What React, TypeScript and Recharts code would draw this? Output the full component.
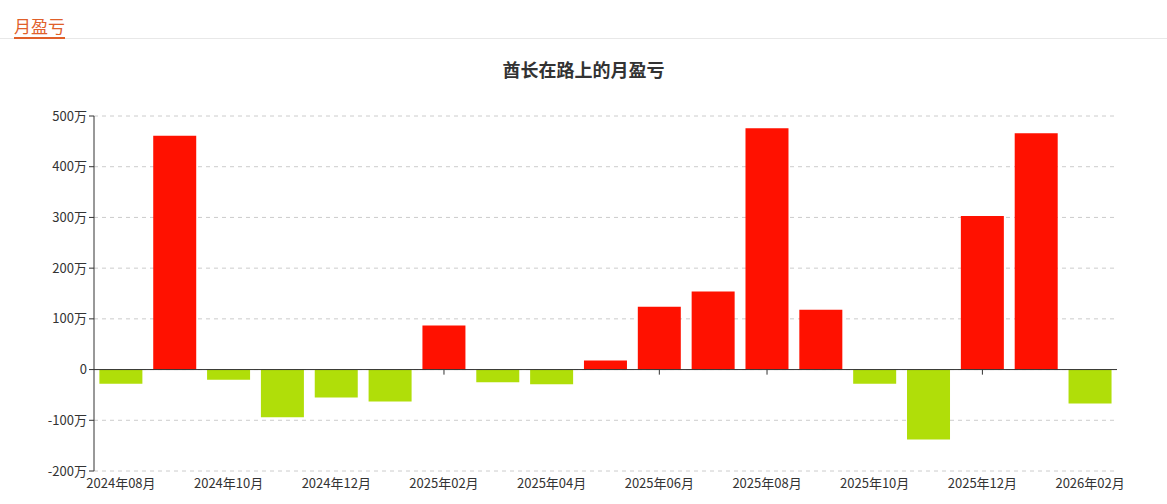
import React from "react";
import {
  BarChart,
  Bar,
  Cell,
  XAxis,
  YAxis,
  CartesianGrid,
  ReferenceLine,
} from "recharts";

const months = [
  "2024年08月",
  "2024年09月",
  "2024年10月",
  "2024年11月",
  "2024年12月",
  "2025年01月",
  "2025年02月",
  "2025年03月",
  "2025年04月",
  "2025年05月",
  "2025年06月",
  "2025年07月",
  "2025年08月",
  "2025年09月",
  "2025年10月",
  "2025年11月",
  "2025年12月",
  "2026年01月",
  "2026年02月",
];

// 单位：万
const profit = [
  -28, 461, -20, -94, -55, -63, 87, -25, -29, 18, 124, 154, 476, 118, -28,
  -138, 303, 466, -67,
];

const yTicks = [-200, -100, 0, 100, 200, 300, 400, 500];

const data = months.map((m, i) => ({ month: m, value: profit[i] }));
// tick marks on the zero line sit under the bars, so only the ones beside
// positive bars show
const tickMonths = data
  .filter((d, i) => i % 2 === 0 && d.value >= 0)
  .map((d) => d.month);

const font = '"Noto Sans CJK SC", "Microsoft YaHei", sans-serif';

export default function App() {
  return (
    <div
      style={{
        position: "absolute",
        left: 0,
        top: 0,
        width: 1167,
        height: 504,
        background: "#fff",
        fontFamily: font,
      }}
    >
      <div
        style={{
          position: "absolute",
          left: 0,
          right: 0,
          top: 38,
          height: 1,
          background: "#e8e8e8",
        }}
      />
      <div
        style={{
          position: "absolute",
          left: 14,
          top: 15,
          fontSize: 17,
          color: "#e0602a",
          borderBottom: "2px solid #e0602a",
          lineHeight: "21px",
          paddingBottom: 1,
        }}
      >
        月盈亏
      </div>
      <div
        style={{
          position: "absolute",
          left: 0,
          width: 1167,
          top: 56,
          textAlign: "center",
          fontSize: 18,
          fontWeight: "bold",
          color: "#333",
        }}
      >
        酋长在路上的月盈亏
      </div>
      <BarChart
        width={1167}
        height={504}
        data={data}
        margin={{ top: 116, right: 50, bottom: 3, left: 34 }}
        barCategoryGap="10%"
        style={{ position: "absolute", left: 0, top: 0 }}
      >
        <CartesianGrid
          vertical={false}
          stroke="#ccc"
          strokeDasharray="4 4"
        />
        <XAxis
          dataKey="month"
          interval={1}
          axisLine={false}
          tickLine={false}
          height={30}
          tick={{ fontSize: 13, fill: "#333", fontFamily: font }}
        />
        <YAxis
          width={60}
          domain={[-200, 500]}
          ticks={yTicks}
          interval={0}
          axisLine={{ stroke: "#333" }}
          tickLine={{ stroke: "#333" }}
          tickSize={5}
          tickFormatter={(v: number) => (v === 0 ? "0" : `${v}万`)}
          tick={{ fontSize: 13, fill: "#333", fontFamily: font }}
        />
        {tickMonths.map((m) => (
          <ReferenceLine
            key={m}
            segment={[
              { x: m, y: 0 },
              { x: m, y: -10 },
            ]}
            stroke="#333"
          />
        ))}
        <Bar dataKey="value" isAnimationActive={false}>
          {data.map((d) => (
            <Cell key={d.month} fill={d.value >= 0 ? "#ff1100" : "#b0de09"} />
          ))}
        </Bar>
        <ReferenceLine y={0} stroke="#333" strokeWidth={1} />
      </BarChart>
    </div>
  );
}
